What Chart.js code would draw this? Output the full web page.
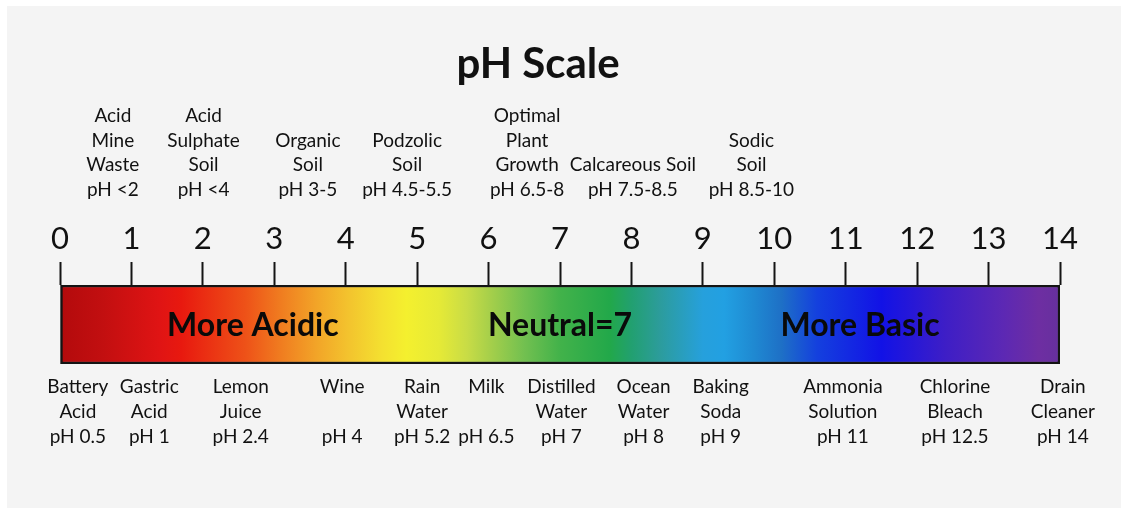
<!DOCTYPE html>
<html>
<head>
<meta charset="utf-8">
<script src="https://cdn.jsdelivr.net/npm/chart.js@4/dist/chart.umd.min.js"></script>
<style>
  html, body { margin: 0; padding: 0; background: #ffffff; }
  canvas { display: block; }
</style>
</head>
<body>
<canvas id="c" width="1127" height="510"></canvas>
<script>
// ---------- DATA ----------
const chartTitle = 'pH Scale';
const phRange = [0, 14];
const tickValues = [0, 1, 2, 3, 4, 5, 6, 7, 8, 9, 10, 11, 12, 13, 14];

const zoneNames = ['More Acidic', 'Neutral=7', 'More Basic'];
const zoneCenters = [2.7, 7.0, 11.2];

const soilLabels = [
  ['Acid', 'Mine', 'Waste', 'pH <2'],
  ['Acid', 'Sulphate', 'Soil', 'pH <4'],
  ['Organic', 'Soil', 'pH 3-5'],
  ['Podzolic', 'Soil', 'pH 4.5-5.5'],
  ['Optimal', 'Plant', 'Growth', 'pH 6.5-8'],
  ['Calcareous Soil', 'pH 7.5-8.5'],
  ['Sodic', 'Soil', 'pH 8.5-10']
];
const soilAnchors = [0.74, 2.01, 3.47, 4.86, 6.54, 8.02, 9.68];

const substanceLabels = [
  ['Battery', 'Acid', 'pH 0.5'],
  ['Gastric', 'Acid', 'pH 1'],
  ['Lemon', 'Juice', 'pH 2.4'],
  ['Wine', '', 'pH 4'],
  ['Rain', 'Water', 'pH 5.2'],
  ['Milk', '', 'pH 6.5'],
  ['Distilled', 'Water', 'pH 7'],
  ['Ocean', 'Water', 'pH 8'],
  ['Baking', 'Soda', 'pH 9'],
  ['Ammonia', 'Solution', 'pH 11'],
  ['Chlorine', 'Bleach', 'pH 12.5'],
  ['Drain', 'Cleaner', 'pH 14']
];
const substanceAnchors = [0.25, 1.25, 2.53, 3.95, 5.07, 5.97, 7.02, 8.17, 9.25, 10.96, 12.53, 14.04];

// ---------- STYLE ----------
const FONT = 'Lato, "Open Sans", sans-serif';
const gradientStops = [
  [0, '#b30a0c'], [0.6, '#c20f10'], [1.4, '#e01414'], [1.7, '#e8190f'],
  [2.6, '#ee5218'], [3.1, '#f07d20'], [3.6, '#f2a528'], [4.05, '#f3c42e'],
  [4.5, '#f4e030'], [4.85, '#f4f02e'], [5.3, '#e6ea36'], [5.7, '#c8dc46'],
  [6.0, '#a8d04a'], [6.5, '#72c050'], [7.0, '#42b24a'], [7.7, '#22a84a'],
  [8.0, '#22a070'], [8.4, '#2c9c9c'], [9.0, '#26a0dc'], [9.3, '#22a0e2'],
  [9.7, '#1f8ad2'], [10.1, '#1e70c6'], [10.6, '#1440de'], [11.5, '#1212e6'],
  [12.4, '#3e1ec6'], [13.2, '#5c28b4'], [13.7, '#6e2ea2'], [14, '#66309e']
];

function barGradient(ctx) {
  const chart = ctx.chart;
  const area = chart.chartArea;
  if (!area) return '#cccccc';
  const xs = chart.scales.x;
  const x0 = xs.getPixelForValue(phRange[0]);
  const x1 = xs.getPixelForValue(phRange[1]);
  const g = chart.ctx.createLinearGradient(x0, 0, x1, 0);
  gradientStops.forEach(([v, c]) => {
    g.addColorStop((v - phRange[0]) / (phRange[1] - phRange[0]), c);
  });
  return g;
}

const panelPlugin = {
  id: 'panel',
  beforeDraw(chart) {
    const c = chart.ctx;
    c.save();
    c.fillStyle = '#ffffff';
    c.fillRect(0, 0, chart.width, chart.height);
    c.fillStyle = '#f4f4f4';
    c.fillRect(7, 6, 1114, 502);
    c.restore();
  }
};

const textPlugin = {
  id: 'texts',
  afterDatasetsDraw(chart) {
    const c = chart.ctx;
    const xs = chart.scales.x;
    const area = chart.chartArea;
    c.save();
    c.fillStyle = '#111111';
    c.textAlign = 'center';
    c.textBaseline = 'middle';

    // Title
    c.font = 'bold 42px ' + FONT;
    c.fillText(chartTitle, (area.left + area.right) / 2 - 22, 64);

    // Zone names inside bar
    c.font = 'bold 32px ' + FONT;
    c.fillStyle = '#0a0a0a';
    const midY = (area.top + area.bottom) / 2;
    zoneNames.forEach((t, i) => {
      c.fillText(t, xs.getPixelForValue(zoneCenters[i]), midY + 1);
    });
    c.fillStyle = '#111111';

    // Soil labels above (bottom-aligned)
    c.font = '19px ' + FONT;
    const lh = 24.7;
    const lastTop = area.top - 95;
    soilLabels.forEach((lines, i) => {
      const x = xs.getPixelForValue(soilAnchors[i]);
      const n = lines.length;
      lines.forEach((ln, j) => {
        c.fillText(ln, x, lastTop - (n - 1 - j) * lh);
      });
    });

    // Substance labels below (top-aligned)
    const firstBelow = area.bottom + 23;
    substanceLabels.forEach((lines, i) => {
      const x = xs.getPixelForValue(substanceAnchors[i]);
      lines.forEach((ln, j) => {
        if (ln) c.fillText(ln, x, firstBelow + j * lh);
      });
    });
    c.restore();
  }
};

const PAD_TOP = 200;
const AREA_TOP = 285;

new Chart(document.getElementById('c'), {
  type: 'bar',
  data: {
    labels: ['pH'],
    datasets: [{
      data: [phRange],
      backgroundColor: barGradient,
      borderColor: '#141414',
      borderWidth: 2.5,
      borderSkipped: false,
      barPercentage: 1,
      categoryPercentage: 1
    }]
  },
  options: {
    indexAxis: 'y',
    responsive: false,
    devicePixelRatio: 1,
    animation: false,
    layout: { padding: { top: PAD_TOP, left: 60, right: 67, bottom: 146 } },
    plugins: { legend: { display: false }, tooltip: { enabled: false }, title: { display: false } },
    scales: {
      x: {
        type: 'linear',
        position: 'top',
        min: phRange[0],
        max: phRange[1],
        afterBuildTicks(scale) { scale.ticks = tickValues.map(v => ({ value: v })); },
        afterFit(scale) { scale.height = AREA_TOP - PAD_TOP; },
        ticks: {
          color: '#111111',
          padding: 4,
          autoSkip: false,
          maxRotation: 0,
          font: { family: FONT, size: 31 },
          callback: (v) => String(v)
        },
        grid: {
          drawOnChartArea: false,
          drawTicks: true,
          tickLength: 23,
          tickWidth: 2,
          tickColor: '#141414'
        },
        border: { display: false }
      },
      y: { display: false }
    }
  },
  plugins: [panelPlugin, textPlugin]
});
</script>
</body>
</html>
